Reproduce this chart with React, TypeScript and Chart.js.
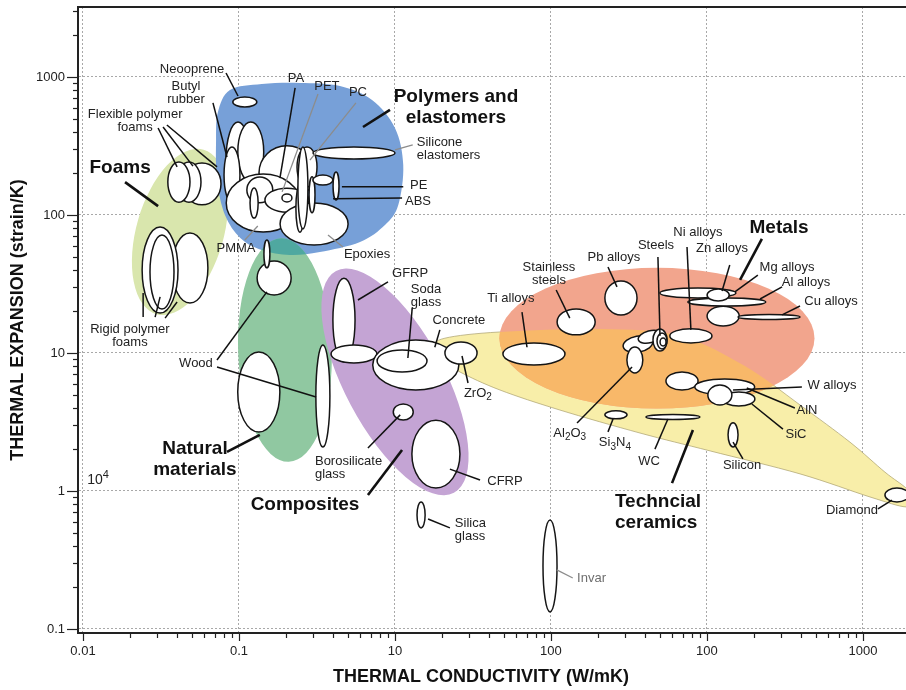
import React, { useEffect, useRef } from "react";
import { Chart, registerables } from "chart.js";
Chart.register(...registerables);

// ---------- axes ----------
const X_MIN = 0.00929;
const X_MAX = 1888;
const Y_MIN = 0.0935;
const Y_MAX = 3214;
const xMajorTicks = [0.01, 0.1, 1, 10, 100, 1000];
const xTickLabels = ["0.01", "0.1", "10", "100", "100", "1000"];
const yMajorTicks = [0.1, 1, 10, 100, 1000];
const yTickLabels = ["0.1", "1", "10", "100", "1000"];
const xTitle = "THERMAL CONDUCTIVITY (W/mK)";
const yTitle = "THERMAL EXPANSION (strain/K)";

// ---------- family envelopes (conductivity W/mK, expansion 1e-6/K, half-axes in decades, rotation deg) ----------
const foamsEnvelope = [0.0419, 75.3, 0.28, 0.62, 16];
const naturalEnvelope = [0.197, 10.5, 0.3, 0.81, -2];
const compositesEnvelope = [1.0, 6.17, 0.32, 0.91, -28];
const metalsEnvelope = [47.8, 12.8, 1.01, 0.51, 0];
const polymersOutline = [
  [0.0733, 557], [0.0875, 805], [0.14, 889], [0.246, 905], [0.444, 860], [0.713, 681],
  [1.0, 427], [1.13, 230], [1.05, 118], [0.863, 84.6], [0.597, 63.7], [0.33, 53.9],
  [0.212, 51.3], [0.14, 55.7], [0.102, 68.1], [0.0813, 100], [0.0723, 179], [0.0713, 349],
];
const ceramicsOutline = [
  [1.73, 10.9], [2.09, 12.8], [4.71, 14.2], [20.6, 14.9], [67.1, 13.3], [175, 8.05],
  [395, 4.2], [825, 2.26], [1383, 1.37], [1888, 1.05], [2154, 0.86], [1888, 0.766],
  [1109, 0.905], [395, 1.33], [105, 1.95], [37.2, 2.63], [11.4, 3.86], [4.71, 5.39],
  [2.61, 7.28], [1.89, 9.2],
];

// ---------- material bubbles [k, alpha, half-width dec, half-height dec, rot] ----------
const foamBubbles = [
  [0.0579, 168, 0.122, 0.152, 0],
  [0.0478, 173, 0.077, 0.145, 0],
  [0.0412, 173, 0.071, 0.145, 0],
  [0.0485, 41.3, 0.115, 0.254, 0],
  [0.0312, 39.9, 0.115, 0.312, 0],
  [0.0321, 38.6, 0.077, 0.268, 0],
];
const polymerBubbles = [
  [0.0986, 250, 0.077, 0.275, 0],
  [0.119, 286, 0.083, 0.217, 0],
  [0.203, 202, 0.179, 0.196, 0],
  [0.0902, 195, 0.051, 0.203, 0],
  [0.273, 223, 0.064, 0.145, 0],
  [0.143, 122, 0.237, 0.21, 0],
  [0.136, 152, 0.083, 0.094, 0],
  [0.203, 128, 0.141, 0.087, 0],
  [0.203, 133, 0.032, 0.029, 0],
  [0.303, 86.0, 0.218, 0.152, 0],
  [0.125, 122, 0.026, 0.109, 0],
  [0.246, 112, 0.026, 0.174, 0],
  [0.257, 157, 0.032, 0.297, 0],
  [0.294, 140, 0.019, 0.13, 0],
  [0.345, 179, 0.064, 0.036, 0],
  [0.419, 162, 0.019, 0.101, 0],
  [0.546, 281, 0.263, 0.043, 0],
  [0.109, 659, 0.077, 0.036, 0],
];
const naturalBubbles = [
  [0.168, 34.9, 0.109, 0.123, 0],
  [0.151, 52.2, 0.019, 0.101, 0],
  [0.134, 5.22, 0.135, 0.29, 0],
  [0.345, 4.88, 0.045, 0.37, 0],
];
const compositeBubbles = [
  [0.471, 17.3, 0.071, 0.304, 0],
  [0.546, 9.84, 0.147, 0.065, 0],
  [1.36, 8.19, 0.276, 0.181, 0],
  [1.11, 8.75, 0.16, 0.08, 0],
  [2.65, 10, 0.103, 0.08, 0],
  [1.13, 3.74, 0.064, 0.058, 0],
  [1.83, 1.85, 0.154, 0.246, 0],
  [1.47, 0.67, 0.026, 0.094, 0],
  [9.86, 0.286, 0.045, 0.333, 0],
];
const metalBubbles = [
  [7.78, 9.84, 0.199, 0.08, 0],
  [14.5, 16.8, 0.122, 0.094, 0],
  [28.1, 25.0, 0.103, 0.123, 0],
  [36.1, 11.6, 0.096, 0.058, -10],
  [43.1, 13.1, 0.077, 0.043, -15],
  [34.5, 8.9, 0.051, 0.094, 0],
  [50.0, 12.4, 0.045, 0.08, 0],
  [51.5, 12.2, 0.032, 0.058, 0],
  [52.3, 12.0, 0.019, 0.029, 0],
  [78.9, 13.3, 0.135, 0.051, 0],
  [87.5, 27.2, 0.244, 0.036, 0],
  [127, 18.5, 0.103, 0.072, 0],
  [134, 23.4, 0.25, 0.029, 0],
  [118, 26.3, 0.071, 0.043, 0],
  [250, 18.2, 0.199, 0.018, 0],
  [69.2, 6.27, 0.103, 0.065, 0],
  [130, 5.67, 0.192, 0.058, 0],
  [160, 4.64, 0.103, 0.051, 0],
  [121, 4.96, 0.077, 0.072, 0],
];
const ceramicBubbles = [
  [26.1, 3.56, 0.071, 0.029, 0],
  [60.5, 3.44, 0.173, 0.018, 0],
  [147, 2.55, 0.032, 0.087, 0],
  [1652, 0.935, 0.077, 0.051, 0],
];

// ---------- labels [text, k, alpha, align, kind] kind: 0 normal, 1 bold, 2 gray ----------
const labelTexts = [
  ["Neooprene", 0.05, 1143, "c", 0],
  ["Butyl\nrubber", 0.0457, 766, "c", 0],
  ["Flexible polymer\nfoams", 0.0216, 480, "c", 0],
  ["Foams", 0.0173, 219, "c", 1],
  ["Rigid polymer\nfoams", 0.02, 13.3, "c", 0],
  ["PA", 0.232, 984, "c", 0],
  ["PET", 0.366, 860, "c", 0],
  ["PC", 0.579, 778, "c", 0],
  ["Polymers and\nelastomers", 2.46, 606, "c", 1],
  ["Silicone\nelastomers", 1.38, 301, "l", 0],
  ["PE", 1.25, 165, "l", 0],
  ["ABS", 1.16, 126, "l", 0],
  ["PMMA", 0.0957, 57.7, "c", 0],
  ["Epoxies", 0.662, 52.2, "c", 0],
  ["GFRP", 1.25, 38.0, "c", 0],
  ["Soda\nglass", 1.58, 25.9, "c", 0],
  ["Concrete", 2.57, 17.3, "c", 0],
  ["ZrO{2}", 3.4, 5.13, "c", 0],
  ["Wood", 0.053, 8.47, "c", 0],
  ["Natural\nmaterials", 0.0522, 1.71, "c", 1],
  ["10^4", 0.0125, 1.2, "c", 0],
  ["Borosilicate\nglass", 0.307, 1.47, "l", 0],
  ["Composites", 0.265, 0.792, "c", 1],
  ["CFRP", 5.07, 1.18, "c", 0],
  ["Silica\nglass", 2.42, 0.522, "l", 0],
  ["Invar", 14.7, 0.234, "l", 2],
  ["Ti alloys", 5.54, 25.0, "c", 0],
  ["Stainless\nsteels", 9.71, 37.4, "c", 0],
  ["Pb alloys", 25.3, 49.6, "c", 0],
  ["Steels", 47.1, 60.6, "c", 0],
  ["Ni alloys", 87.5, 75.3, "c", 0],
  ["Zn alloys", 125, 57.7, "c", 0],
  ["Metals", 290, 80.5, "c", 1],
  ["Mg alloys", 326, 42.0, "c", 0],
  ["Al alloys", 431, 32.2, "c", 0],
  ["Cu alloys", 624, 23.8, "c", 0],
  ["W alloys", 633, 5.86, "c", 0],
  ["AlN", 438, 3.86, "c", 0],
  ["SiC", 372, 2.55, "c", 0],
  ["Al{2}O{3}", 13.2, 2.63, "c", 0],
  ["Si{3}N{4}", 25.7, 2.23, "c", 0],
  ["WC", 42.5, 1.65, "c", 0],
  ["Techncial\nceramics", 25.7, 0.705, "l", 1],
  ["Silicon", 168, 1.52, "c", 0],
  ["Diamond", 850, 0.728, "c", 0],
];

// ---------- leader lines [k1, a1, k2, a2, kind] kind: 0 thin, 1 gray, 2 thick ----------
const leaderLines = [
  [0.0826, 1069, 0.0986, 728, 0],
  [0.0681, 649, 0.0838, 263, 0],
  [0.0303, 427, 0.0401, 223, 0],
  [0.0326, 434, 0.0507, 226, 0],
  [0.0345, 449, 0.0723, 223, 0],
  [0.0186, 173, 0.0303, 116, 2],
  [0.0243, 18.2, 0.0243, 27.2, 0],
  [0.029, 18.2, 0.0312, 25.5, 0],
  [0.0336, 17.9, 0.0401, 23.4, 0],
  [0.229, 832, 0.183, 185, 0],
  [0.321, 753, 0.189, 147, 1],
  [0.562, 649, 0.285, 250, 1],
  [0.929, 577, 0.624, 434, 2],
  [1.3, 322, 1.0, 296, 1],
  [1.13, 160, 0.457, 160, 0],
  [1.11, 133, 0.401, 131, 0],
  [0.109, 65.9, 0.132, 83.2, 1],
  [0.464, 58.6, 0.372, 71.6, 1],
  [0.902, 32.7, 0.579, 24.2, 0],
  [1.29, 21.2, 1.21, 9.2, 0],
  [1.94, 14.7, 1.8, 11.0, 0],
  [2.94, 6.06, 2.69, 9.51, 0],
  [0.0723, 8.9, 0.151, 27.7, 0],
  [0.0723, 7.92, 0.312, 4.8, 0],
  [0.0838, 1.92, 0.136, 2.55, 2],
  [0.671, 2.05, 1.08, 3.56, 0],
  [0.671, 0.935, 1.11, 1.98, 2],
  [2.25, 1.44, 3.51, 1.2, 0],
  [1.63, 0.627, 2.25, 0.54, 0],
  [10.9, 0.268, 13.8, 0.234, 1],
  [6.52, 19.8, 7.02, 11.0, 0],
  [10.8, 28.6, 13.2, 17.9, 0],
  [23.2, 42.0, 26.5, 30.1, 0],
  [48.5, 49.6, 50.0, 13.3, 0],
  [74.5, 58.6, 78.9, 14.7, 0],
  [140, 43.4, 125, 28.1, 0],
  [225, 67.0, 163, 33.8, 2],
  [212, 36.7, 151, 27.7, 0],
  [303, 30.1, 219, 24.6, 0],
  [395, 21.9, 303, 18.9, 0],
  [406, 5.67, 147, 5.39, 0],
  [366, 3.99, 180, 5.58, 0],
  [307, 2.81, 194, 4.27, 0],
  [14.7, 3.11, 33.1, 7.92, 0],
  [23.2, 2.68, 25.0, 3.32, 0],
  [46.4, 2.01, 56.2, 3.32, 0],
  [59.7, 1.14, 81.3, 2.77, 2],
  [170, 1.71, 147, 2.26, 0],
  [1248, 0.741, 1535, 0.86, 0],
];

const FONT = '"Liberation Sans", Arial, sans-serif';

function buildLogTicks(min: number, max: number) {
  const out: any[] = [];
  const e0 = Math.floor(Math.log10(min));
  const e1 = Math.ceil(Math.log10(max));
  for (let e = e0; e <= e1; e++) {
    for (let m = 1; m < 10; m++) {
      const v = parseFloat((m * Math.pow(10, e)).toPrecision(6));
      if (v >= min && v <= max) out.push({ value: v, isMajor: m === 1 });
    }
  }
  return out;
}

function ellipsePath(ctx: CanvasRenderingContext2D, xs: any, ys: any, e: number[]) {
  const [k, a, dx, dy, rot] = e;
  const cx = xs.getPixelForValue(k);
  const cy = ys.getPixelForValue(a);
  const rx = Math.abs(xs.getPixelForValue(k * Math.pow(10, dx)) - cx);
  const ry = Math.abs(cy - ys.getPixelForValue(a * Math.pow(10, dy)));
  ctx.beginPath();
  ctx.ellipse(cx, cy, rx, ry, ((rot || 0) * Math.PI) / 180, 0, Math.PI * 2);
}

function outlinePath(ctx: CanvasRenderingContext2D, xs: any, ys: any, pts: number[][]) {
  const p = pts.map(([k, a]) => ({ x: xs.getPixelForValue(k), y: ys.getPixelForValue(a) }));
  const n = p.length;
  ctx.beginPath();
  ctx.moveTo(p[0].x, p[0].y);
  for (let i = 0; i < n; i++) {
    const p0 = p[(i - 1 + n) % n], p1 = p[i], p2 = p[(i + 1) % n], p3 = p[(i + 2) % n];
    const t = 1 / 6;
    ctx.bezierCurveTo(
      p1.x + (p2.x - p0.x) * t, p1.y + (p2.y - p0.y) * t,
      p2.x - (p3.x - p1.x) * t, p2.y - (p3.y - p1.y) * t,
      p2.x, p2.y
    );
  }
  ctx.closePath();
}

function drawRich(ctx: CanvasRenderingContext2D, str: string, x: number, y: number, size: number, bold: boolean, align: string) {
  const segs: [string, number][] = [];
  let cur = "";
  let i = 0;
  while (i < str.length) {
    const c = str[i];
    if (c === "{") {
      if (cur) segs.push([cur, 0]);
      cur = "";
      const j = str.indexOf("}", i);
      segs.push([str.slice(i + 1, j), 1]);
      i = j + 1;
      continue;
    }
    if (c === "^") {
      if (cur) segs.push([cur, 0]);
      cur = "";
      segs.push([str[i + 1], 2]);
      i += 2;
      continue;
    }
    cur += c;
    i++;
  }
  if (cur) segs.push([cur, 0]);
  const fontFor = (t: number) => `${bold ? "bold " : ""}${t ? Math.round(size * 0.75) : size}px ${FONT}`;
  let w = 0;
  for (const [s, t] of segs) {
    ctx.font = fontFor(t);
    w += ctx.measureText(s).width;
  }
  let sx = align === "l" ? x : x - w / 2;
  ctx.textAlign = "left";
  ctx.textBaseline = "middle";
  for (const [s, t] of segs) {
    ctx.font = fontFor(t);
    const dy = t === 1 ? size * 0.3 : t === 2 ? -size * 0.35 : 0;
    ctx.fillText(s, sx, y + dy);
    sx += ctx.measureText(s).width;
  }
}

const ashbyPlugin = {
  id: "ashby",
  beforeDatasetsDraw(chart: any) {
    const { ctx, chartArea: ca, scales } = chart;
    const xs = scales.x, ys = scales.y;
    ctx.save();
    ctx.beginPath();
    ctx.rect(ca.left, ca.top, ca.right - ca.left, ca.bottom - ca.top);
    ctx.clip();

    const fillEllipse = (e: number[], color: string) => {
      ellipsePath(ctx, xs, ys, e);
      ctx.fillStyle = color;
      ctx.fill();
    };
    // envelopes
    fillEllipse(foamsEnvelope, "#d9e6ad");
    outlinePath(ctx, xs, ys, polymersOutline);
    ctx.fillStyle = "#77a0d8";
    ctx.fill();
    fillEllipse(naturalEnvelope, "#90c8a1");
    ctx.save();
    outlinePath(ctx, xs, ys, polymersOutline);
    ctx.clip();
    fillEllipse(naturalEnvelope, "#4fa8a0");
    ctx.restore();
    fillEllipse(compositesEnvelope, "#c4a4d4");
    outlinePath(ctx, xs, ys, ceramicsOutline);
    ctx.fillStyle = "#f8eea9";
    ctx.fill();
    ctx.strokeStyle = "rgba(170,160,110,0.7)";
    ctx.lineWidth = 1;
    ctx.stroke();
    fillEllipse(metalsEnvelope, "#f2a58d");
    ctx.save();
    outlinePath(ctx, xs, ys, ceramicsOutline);
    ctx.clip();
    fillEllipse(metalsEnvelope, "#f8b869");
    ctx.restore();

    // bubbles
    const groups = [foamBubbles, polymerBubbles, naturalBubbles, compositeBubbles, metalBubbles, ceramicBubbles];
    ctx.lineWidth = 1.5;
    ctx.strokeStyle = "#151515";
    for (const g of groups) {
      for (const e of g) {
        ellipsePath(ctx, xs, ys, e as number[]);
        ctx.fillStyle = "#ffffff";
        ctx.fill();
        ctx.stroke();
      }
    }
    ctx.restore();

    // leader lines
    ctx.save();
    ctx.lineCap = "butt";
    for (const [k1, a1, k2, a2, kind] of leaderLines) {
      ctx.beginPath();
      ctx.moveTo(xs.getPixelForValue(k1), ys.getPixelForValue(a1));
      ctx.lineTo(xs.getPixelForValue(k2), ys.getPixelForValue(a2));
      ctx.strokeStyle = kind === 1 ? "#8c8c8c" : "#111";
      ctx.lineWidth = kind === 2 ? 2.6 : kind === 1 ? 1.3 : 1.5;
      ctx.stroke();
    }
    ctx.restore();

    // labels
    ctx.save();
    for (const [text, k, a, align, kind] of labelTexts as any[]) {
      const bold = kind === 1;
      const size = bold ? 19 : text === "10^4" ? 14 : 13;
      const lh = bold ? 21 : 13;
      ctx.fillStyle = kind === 2 ? "#6e6e6e" : bold ? "#111" : "#222";
      const lines = String(text).split("\n");
      const x = xs.getPixelForValue(k);
      const y0 = ys.getPixelForValue(a) - ((lines.length - 1) * lh) / 2;
      lines.forEach((ln, i) => drawRich(ctx, ln, x, y0 + i * lh, size, bold, align));
    }
    ctx.restore();
  },
  afterDraw(chart: any) {
    const { ctx, chartArea: ca, scales } = chart;
    const xs = scales.x, ys = scales.y;
    ctx.save();
    ctx.strokeStyle = "#222";
    ctx.lineWidth = 1.2;
    for (const t of xs.ticks) {
      const px = Math.round(xs.getPixelForValue(t.value)) + 0.5;
      const len = t.isMajor ? 8 : 5;
      ctx.beginPath();
      ctx.moveTo(px, ca.bottom);
      ctx.lineTo(px, ca.bottom + len);
      ctx.stroke();
    }
    for (const t of ys.ticks) {
      const py = Math.round(ys.getPixelForValue(t.value)) + 0.5;
      const len = t.isMajor ? 11 : 5;
      ctx.beginPath();
      ctx.moveTo(ca.left, py);
      ctx.lineTo(ca.left - len, py);
      ctx.stroke();
    }
    ctx.lineWidth = 2;
    ctx.beginPath();
    ctx.moveTo(ca.left - 1, ca.top);
    ctx.lineTo(ca.right, ca.top);
    ctx.stroke();

    ctx.fillStyle = "#111";
    ctx.font = `bold 18px ${FONT}`;
    ctx.textAlign = "center";
    ctx.textBaseline = "middle";
    ctx.fillText(xTitle, 481, 677);
    ctx.translate(18, 320);
    ctx.rotate(-Math.PI / 2);
    ctx.fillText(yTitle, 0, 0);
    ctx.restore();
  },
};

function labelFor(v: number, majors: number[], labels: string[]) {
  for (let i = 0; i < majors.length; i++) {
    if (Math.abs(Math.log10(v) - Math.log10(majors[i])) < 1e-6) return labels[i];
  }
  return "";
}

export default function App() {
  const ref = useRef<HTMLCanvasElement>(null);
  useEffect(() => {
    const canvas = ref.current;
    if (!canvas) return;
    const chart = new Chart(canvas, {
      type: "scatter",
      data: { datasets: [] },
      options: {
        animation: false,
        responsive: false,
        maintainAspectRatio: false,
        layout: { padding: { top: 7, right: 0, left: 0, bottom: 0 } },
        plugins: { legend: { display: false }, tooltip: { enabled: false } },
        scales: {
          x: {
            type: "logarithmic",
            position: "bottom",
            min: X_MIN,
            max: X_MAX,
            afterBuildTicks: (s: any) => {
              s.ticks = buildLogTicks(X_MIN, X_MAX);
            },
            afterFit: (s: any) => {
              s.height = 57;
              s.paddingLeft = 0;
              s.paddingRight = 0;
            },
            ticks: {
              autoSkip: false,
              maxRotation: 0,
              minRotation: 0,
              padding: 11,
              color: "#222",
              font: { family: FONT, size: 13 },
              callback: (v: any) => labelFor(Number(v), xMajorTicks, xTickLabels),
            },
            grid: {
              drawTicks: false,
              lineWidth: 1,
              color: (c: any) => (c.tick && c.tick.isMajor ? "#a8a8a8" : "rgba(0,0,0,0)"),
            },
            border: { display: true, color: "#222", width: 2, dash: [2, 2] },
          },
          y: {
            type: "logarithmic",
            position: "left",
            min: Y_MIN,
            max: Y_MAX,
            afterBuildTicks: (s: any) => {
              s.ticks = buildLogTicks(Y_MIN, Y_MAX);
            },
            afterFit: (s: any) => {
              s.width = 78;
              s.paddingTop = 0;
              s.paddingBottom = 0;
            },
            ticks: {
              autoSkip: false,
              padding: 13,
              color: "#222",
              font: { family: FONT, size: 13 },
              callback: (v: any) => labelFor(Number(v), yMajorTicks, yTickLabels),
            },
            grid: {
              drawTicks: false,
              lineWidth: 1,
              color: (c: any) => (c.tick && c.tick.isMajor ? "#a8a8a8" : "rgba(0,0,0,0)"),
            },
            border: { display: true, color: "#222", width: 2, dash: [2, 2] },
          },
        },
      } as any,
      plugins: [ashbyPlugin],
    });
    return () => chart.destroy();
  }, []);
  return (
    <div style={{ position: "fixed", left: 0, top: 0, width: 906, height: 690, background: "#fff" }}>
      <canvas ref={ref} width={906} height={690} style={{ width: 906, height: 690, display: "block" }} />
    </div>
  );
}
